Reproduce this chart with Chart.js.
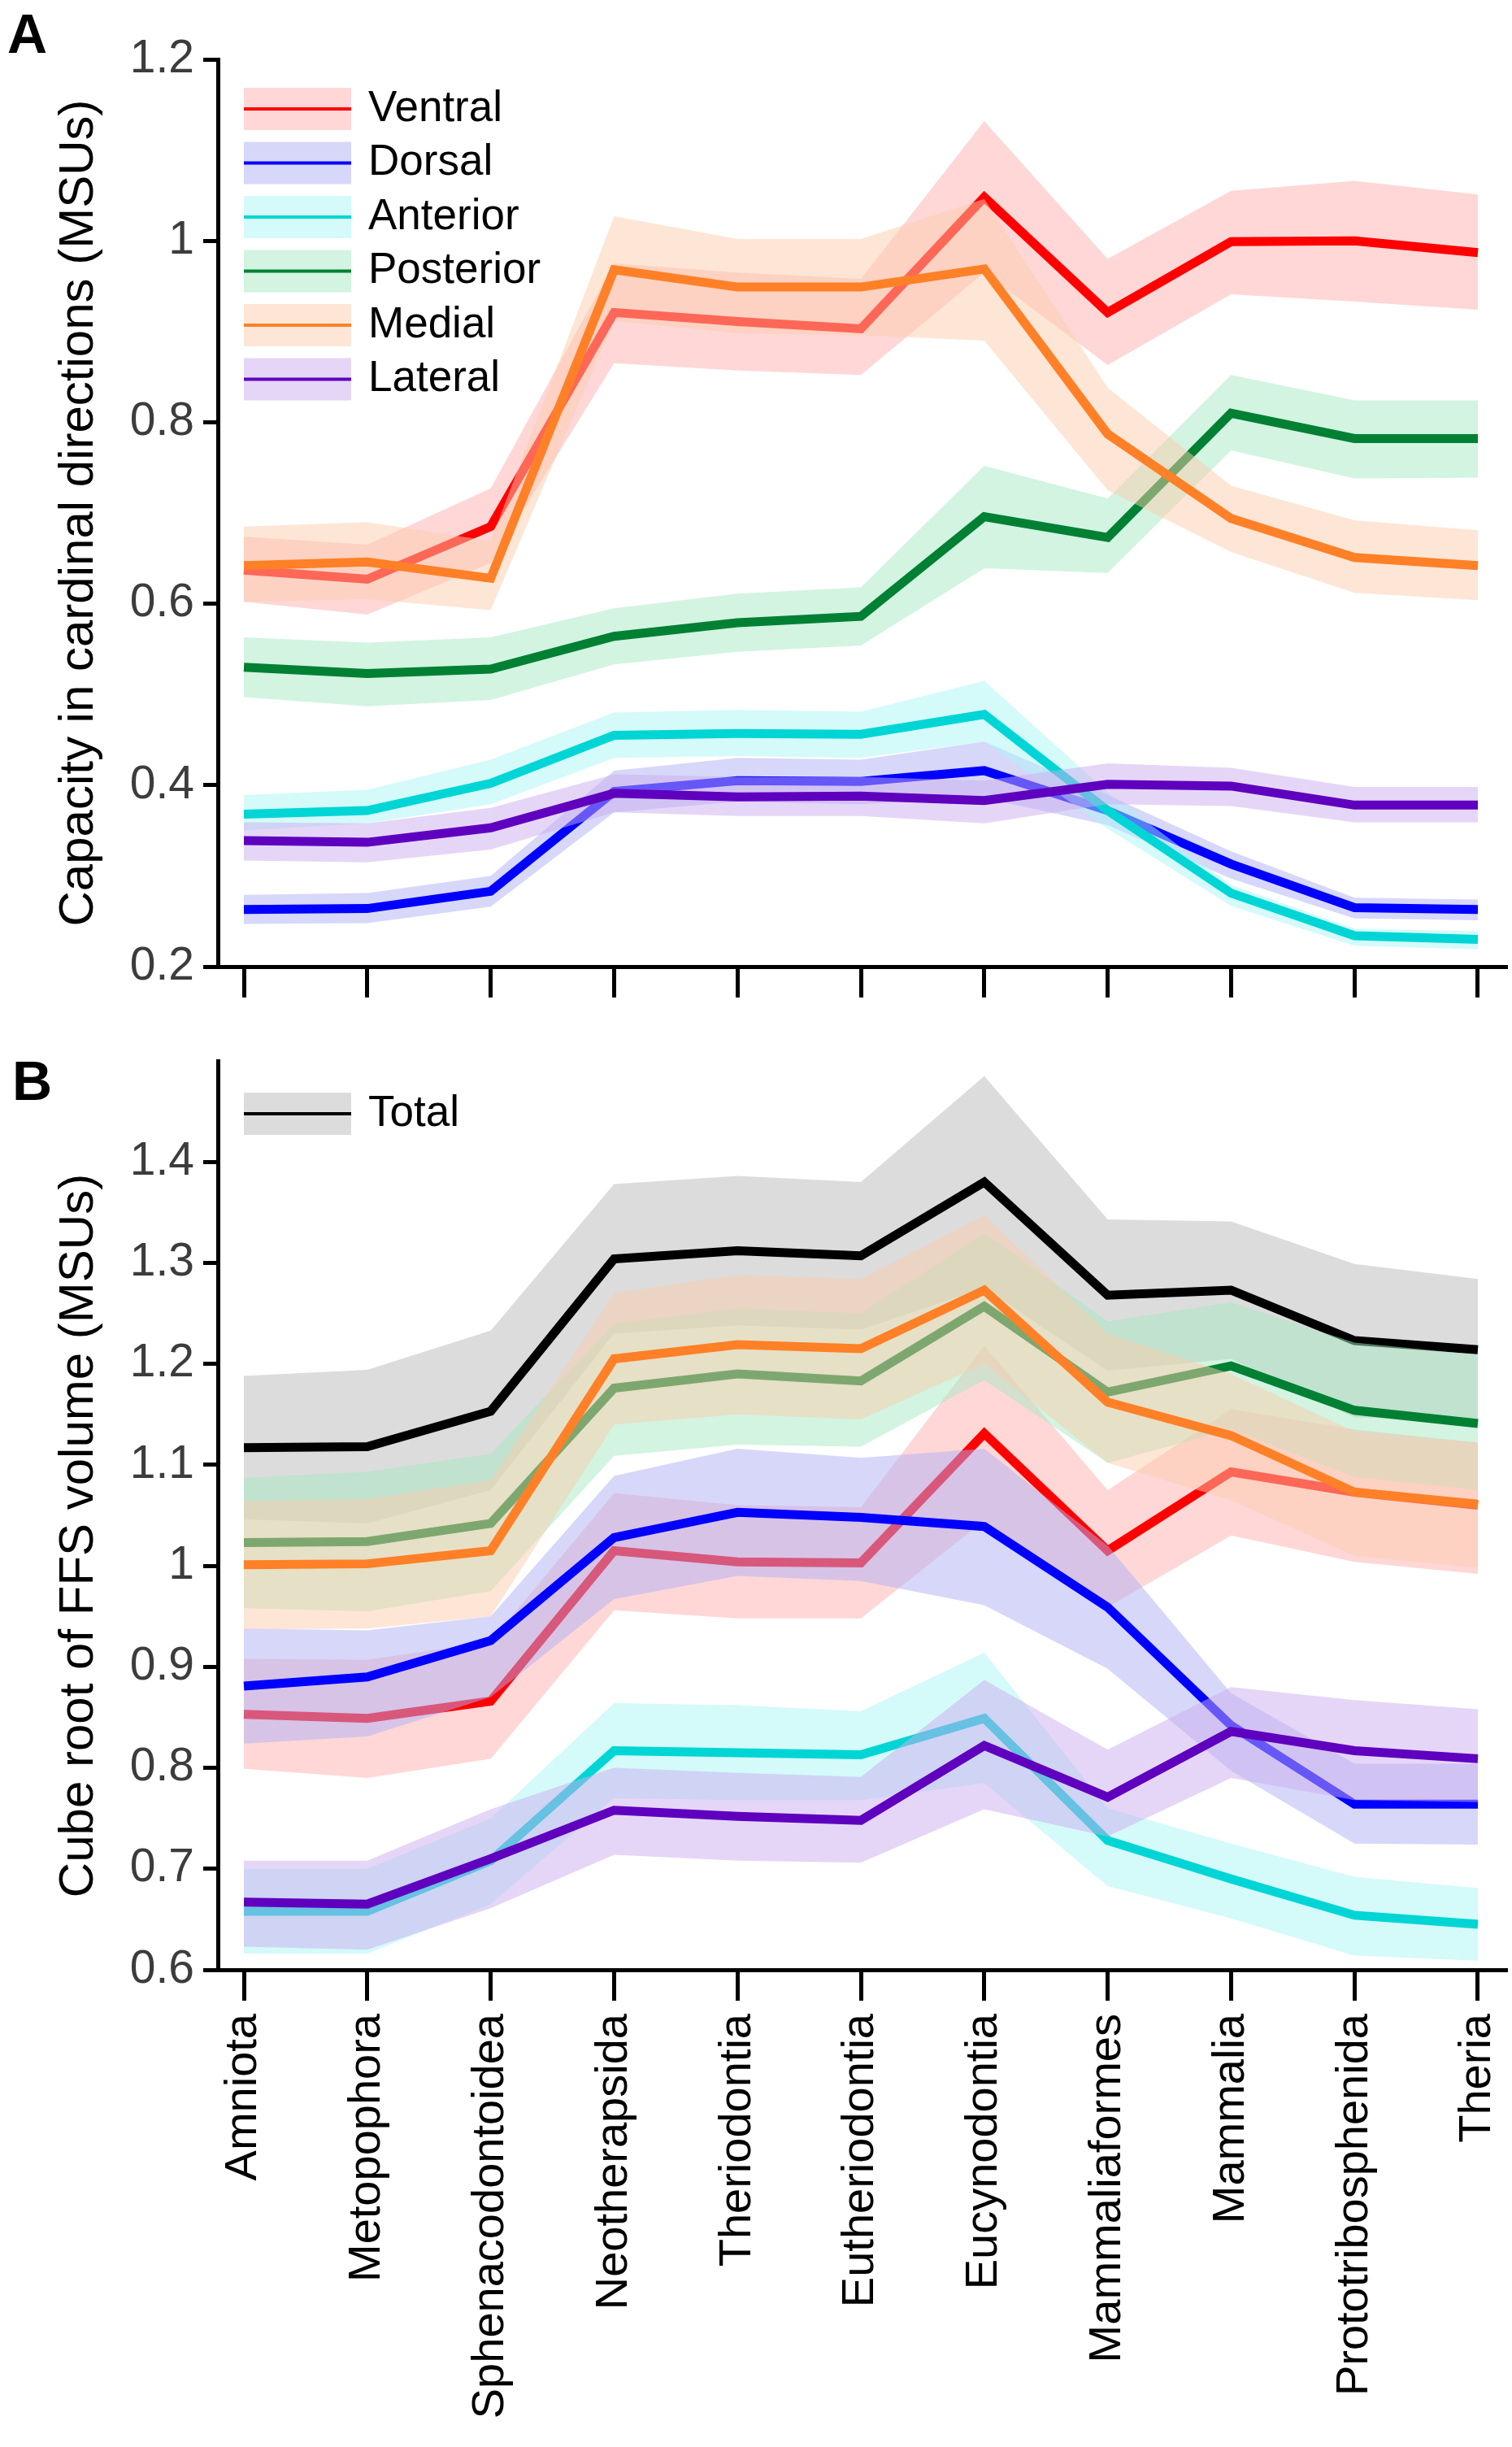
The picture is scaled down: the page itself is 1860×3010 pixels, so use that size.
<!DOCTYPE html>
<html>
<head>
<meta charset="utf-8">
<title>FFS capacity</title>
<script src="https://cdn.jsdelivr.net/npm/chart.js@4.4.1/dist/chart.umd.min.js"></script>
<style>
  html, body { margin: 0; padding: 0; background: #fff; }
  #wrap { position: relative; width: 1860px; height: 3010px; }
  canvas { position: absolute; left: 0; }
  #chartA { top: 0; }
  #chartB { top: 1260px; }
</style>
</head>
<body>
<div id="wrap">
  <canvas id="chartA" width="1860" height="1260"></canvas>
  <canvas id="chartB" width="1860" height="1750"></canvas>
</div>
<script>
// categories (x axis)
const categories = ['Amniota', 'Metopophora', 'Sphenacodontoidea', 'Neotherapsida', 'Theriodontia',
    'Eutheriodontia', 'Eucynodontia', 'Mammaliaformes', 'Mammalia', 'Prototribosphenida', 'Theria'];

// tick labels
const yTicksA = [0.2, 0.4, 0.6, 0.8, 1, 1.2];
const yTicksB = [0.6, 0.7, 0.8, 0.9, 1, 1.1, 1.2, 1.3, 1.4];

// Panel A - capacity in cardinal directions
const ventralA   = [0.637, 0.627, 0.685, 0.921, 0.911, 0.903, 1.048, 0.921, 0.999, 1.000, 0.987];
const ventralAHi = [0.674, 0.665, 0.727, 0.975, 0.965, 0.958, 1.132, 0.980, 1.055, 1.066, 1.051];
const ventralALo = [0.602, 0.588, 0.645, 0.865, 0.857, 0.852, 0.965, 0.863, 0.941, 0.933, 0.924];

const dorsalA   = [0.263, 0.264, 0.283, 0.393, 0.405, 0.404, 0.416, 0.372, 0.313, 0.265, 0.263];
const dorsalAHi = [0.279, 0.281, 0.300, 0.416, 0.430, 0.428, 0.448, 0.389, 0.327, 0.276, 0.274];
const dorsalALo = [0.247, 0.248, 0.266, 0.370, 0.382, 0.379, 0.386, 0.356, 0.297, 0.253, 0.251];

const anteriorA   = [0.368, 0.372, 0.402, 0.455, 0.457, 0.456, 0.478, 0.372, 0.281, 0.234, 0.230];
const anteriorAHi = [0.389, 0.395, 0.428, 0.480, 0.483, 0.481, 0.515, 0.392, 0.290, 0.242, 0.239];
const anteriorALo = [0.350, 0.358, 0.379, 0.430, 0.432, 0.430, 0.448, 0.352, 0.267, 0.223, 0.219];

const posteriorA   = [0.530, 0.523, 0.528, 0.564, 0.579, 0.586, 0.696, 0.673, 0.810, 0.782, 0.782];
const posteriorAHi = [0.563, 0.557, 0.563, 0.595, 0.611, 0.618, 0.752, 0.716, 0.852, 0.824, 0.824];
const posteriorALo = [0.497, 0.487, 0.494, 0.533, 0.547, 0.554, 0.639, 0.634, 0.769, 0.738, 0.739];

const medialA   = [0.642, 0.646, 0.628, 0.968, 0.949, 0.949, 0.969, 0.787, 0.694, 0.651, 0.642];
const medialAHi = [0.685, 0.690, 0.669, 1.027, 1.002, 1.002, 1.046, 0.838, 0.730, 0.692, 0.681];
const medialALo = [0.602, 0.605, 0.593, 0.912, 0.898, 0.896, 0.890, 0.725, 0.657, 0.612, 0.604];

const lateralA   = [0.339, 0.337, 0.353, 0.391, 0.387, 0.388, 0.383, 0.401, 0.399, 0.378, 0.378];
const lateralAHi = [0.359, 0.358, 0.375, 0.412, 0.409, 0.409, 0.405, 0.424, 0.419, 0.398, 0.398];
const lateralALo = [0.317, 0.315, 0.329, 0.370, 0.366, 0.366, 0.358, 0.379, 0.377, 0.359, 0.359];

// Panel B - cube root of FFS volume
const totalB   = [1.117, 1.118, 1.153, 1.304, 1.312, 1.307, 1.380, 1.268, 1.273, 1.223, 1.214];
const totalBHi = [1.188, 1.194, 1.233, 1.378, 1.386, 1.380, 1.485, 1.343, 1.341, 1.299, 1.284];
const totalBLo = [1.046, 1.042, 1.075, 1.230, 1.238, 1.234, 1.275, 1.193, 1.205, 1.147, 1.144];

const ventralB   = [0.853, 0.849, 0.866, 1.015, 1.004, 1.003, 1.131, 1.015, 1.093, 1.073, 1.060];
const ventralBHi = [0.908, 0.907, 0.925, 1.072, 1.060, 1.058, 1.218, 1.075, 1.155, 1.135, 1.122];
const ventralBLo = [0.799, 0.790, 0.809, 0.956, 0.948, 0.948, 1.045, 0.959, 1.030, 1.004, 0.992];

const dorsalB   = [0.881, 0.890, 0.926, 1.028, 1.053, 1.048, 1.039, 0.959, 0.842, 0.764, 0.764];
const dorsalBHi = [0.938, 0.936, 0.950, 1.089, 1.116, 1.107, 1.116, 1.020, 0.874, 0.804, 0.804];
const dorsalBLo = [0.824, 0.831, 0.870, 0.967, 0.990, 0.985, 0.961, 0.898, 0.797, 0.725, 0.724];

const anteriorB   = [0.658, 0.658, 0.708, 0.817, 0.815, 0.813, 0.849, 0.728, 0.690, 0.654, 0.645];
const anteriorBHi = [0.700, 0.700, 0.750, 0.864, 0.862, 0.856, 0.914, 0.760, 0.725, 0.692, 0.681];
const anteriorBLo = [0.616, 0.616, 0.665, 0.770, 0.768, 0.768, 0.785, 0.683, 0.651, 0.614, 0.609];

const posteriorB   = [1.023, 1.024, 1.042, 1.176, 1.190, 1.183, 1.257, 1.172, 1.198, 1.154, 1.141];
const posteriorBHi = [1.087, 1.093, 1.111, 1.240, 1.255, 1.250, 1.330, 1.242, 1.261, 1.221, 1.209];
const posteriorBLo = [0.958, 0.955, 0.975, 1.109, 1.120, 1.118, 1.184, 1.102, 1.135, 1.088, 1.075];

const medialB   = [1.001, 1.002, 1.015, 1.205, 1.219, 1.215, 1.273, 1.162, 1.129, 1.073, 1.061];
const medialBHi = [1.064, 1.066, 1.085, 1.270, 1.288, 1.284, 1.347, 1.230, 1.190, 1.133, 1.122];
const medialBLo = [0.937, 0.938, 0.950, 1.140, 1.150, 1.145, 1.200, 1.102, 1.065, 1.010, 0.998];

const lateralB   = [0.667, 0.665, 0.710, 0.758, 0.752, 0.748, 0.822, 0.771, 0.836, 0.817, 0.809];
const lateralBHi = [0.708, 0.708, 0.759, 0.800, 0.795, 0.791, 0.887, 0.818, 0.880, 0.867, 0.858];
const lateralBLo = [0.623, 0.620, 0.661, 0.714, 0.708, 0.706, 0.759, 0.732, 0.790, 0.768, 0.766];

const FONT = "'Liberation Sans', Arial, Helvetica, sans-serif";

// colours: line, band (band drawn at 50% alpha)
const COL = {
    Ventral:   ['#ff0000', 'rgba(255,175,175,0.5)'],
    Dorsal:    ['#0000ff', 'rgba(175,175,245,0.5)'],
    Anterior:  ['#00d5d5', 'rgba(169,245,245,0.5)'],
    Posterior: ['#008033', 'rgba(165,233,195,0.5)'],
    Medial:    ['#ff8027', 'rgba(251,205,173,0.5)'],
    Lateral:   ['#5f00be', 'rgba(203,173,239,0.5)'],
    Total:     ['#000000', 'rgba(185,185,185,0.5)']
};

function series(name, mean, lo, hi) {
    return { name, mean, lo, hi, line: COL[name][0], band: COL[name][1] };
}

// each series -> band top (filled to next), band bottom, mean line
// first series is drawn first so later bands sit over earlier lines
function buildDatasets(list) {
    const ds = [];
    let n = list.length * 3;
    const pts = arr => arr.map((v, i) => ({ x: i, y: v }));
    list.forEach(s => {
        ds.push({ label: s.name + ' hi', data: pts(s.hi), borderWidth: 0, borderColor: 'rgba(0,0,0,0)',
            backgroundColor: s.band, fill: '+1', order: n-- });
        ds.push({ label: s.name + ' lo', data: pts(s.lo), borderWidth: 0, borderColor: 'rgba(0,0,0,0)',
            fill: false, order: n-- });
        ds.push({ label: s.name, data: pts(s.mean), borderColor: s.line, borderWidth: 11,
            fill: false, order: n-- });
    });
    return ds;
}

// legend with band patch + line, plus panel letter
const bandLegend = {
    id: 'bandLegend',
    afterDatasetsDraw(chart, args, opts) {
        const ctx = chart.ctx;
        ctx.save();
        opts.items.forEach((s, i) => {
            const cy = opts.y + i * 66.5;
            ctx.fillStyle = '#fff';
            ctx.fillRect(300, cy - 26, 132, 52);
            ctx.fillStyle = s.band;
            ctx.fillRect(300, cy - 26, 132, 52);
            ctx.fillStyle = s.line;
            ctx.fillRect(300, cy - 2, 132, 4);
            ctx.fillStyle = '#000';
            ctx.font = '53px ' + FONT;
            ctx.textBaseline = 'middle';
            ctx.textAlign = 'left';
            ctx.fillText(s.name, 453, cy);
        });
        ctx.fillStyle = '#000';
        ctx.font = 'bold 68px ' + FONT;
        ctx.textBaseline = 'alphabetic';
        ctx.fillText(opts.letter, opts.lx, opts.ly);
        ctx.restore();
    }
};

function makeChart(id, list, cfg) {
    return new Chart(document.getElementById(id), {
        type: 'line',
        data: { datasets: buildDatasets(list) },
        options: {
            responsive: false,
            animation: false,
            devicePixelRatio: 1,
            events: [],
            layout: { padding: cfg.padding },
            elements: {
                line: { tension: 0, borderJoinStyle: 'miter', borderCapStyle: 'butt' },
                point: { radius: 0 }
            },
            plugins: {
                legend: { display: false },
                tooltip: { enabled: false },
                bandLegend: { items: list.filter(s => cfg.legend.includes(s.name)), y: cfg.legendY,
                    letter: cfg.letter, lx: cfg.lx, ly: cfg.ly }
            },
            scales: {
                x: {
                    type: 'linear',
                    min: -0.211,
                    max: 10.224,
                    afterBuildTicks: s => { s.ticks = categories.map((c, i) => ({ value: i })); },
                    afterFit: s => { s.height = cfg.xHeight; s.paddingLeft = 0; s.paddingRight = 0; },
                    border: { display: true, color: '#000', width: 5 },
                    grid: { drawOnChartArea: false, drawTicks: true, tickLength: 38, lineWidth: 5, color: '#000' },
                    ticks: {
                        display: cfg.xLabels,
                        autoSkip: false,
                        minRotation: 90,
                        maxRotation: 90,
                        padding: 16,
                        color: '#000',
                        font: { family: FONT, size: 56 },
                        callback: v => categories[v]
                    }
                },
                y: {
                    min: cfg.yMin,
                    max: cfg.yMax,
                    afterBuildTicks: s => { s.ticks = cfg.yTicks.map(v => ({ value: v })); },
                    afterFit: s => { s.width = 268; s.paddingTop = 0; s.paddingBottom = 0; },
                    border: { display: true, color: '#000', width: 5 },
                    grid: { drawOnChartArea: false, drawTicks: true, tickLength: 18, lineWidth: 5, color: '#000' },
                    ticks: {
                        padding: 11,
                        color: '#3c3c3c',
                        font: { family: FONT, size: 57 },
                        callback: v => String(Math.round(v * 10) / 10)
                    },
                    title: {
                        display: true,
                        text: cfg.title,
                        color: '#000',
                        font: { family: FONT, size: 60 },
                        padding: { top: 61, bottom: 0 }
                    }
                }
            }
        },
        plugins: [bandLegend]
    });
}

// Panel A
makeChart('chartA', [
    series('Ventral', ventralA, ventralALo, ventralAHi),
    series('Dorsal', dorsalA, dorsalALo, dorsalAHi),
    series('Anterior', anteriorA, anteriorALo, anteriorAHi),
    series('Posterior', posteriorA, posteriorALo, posteriorAHi),
    series('Medial', medialA, medialALo, medialAHi),
    series('Lateral', lateralA, lateralALo, lateralAHi)
], {
    padding: { top: 73, right: 8, bottom: 31, left: 0 },
    xHeight: 40, xLabels: false,
    yMin: 0.2, yMax: 1.2, yTicks: yTicksA,
    title: 'Capacity in cardinal directions (MSUs)',
    legend: ['Ventral', 'Dorsal', 'Anterior', 'Posterior', 'Medial', 'Lateral'], legendY: 134,
    letter: 'A', lx: 9, ly: 65
});

// Panel B (trailing spaces nudge the centred title down a little)
makeChart('chartB', [
    series('Total', totalB, totalBLo, totalBHi),
    series('Ventral', ventralB, ventralBLo, ventralBHi),
    series('Dorsal', dorsalB, dorsalBLo, dorsalBHi),
    series('Anterior', anteriorB, anteriorBLo, anteriorBHi),
    series('Posterior', posteriorB, posteriorBLo, posteriorBHi),
    series('Medial', medialB, medialBLo, medialBHi),
    series('Lateral', lateralB, lateralBLo, lateralBHi)
], {
    padding: { top: 45, right: 8, bottom: 27, left: 0 },
    xHeight: 560, xLabels: true,
    yMin: 0.6, yMax: 1.5, yTicks: yTicksB,
    title: 'Cube root of FFS volume (MSUs)\u00a0\u00a0\u00a0',
    legend: ['Total'], legendY: 110,
    letter: 'B', lx: 15, ly: 93
});
</script>
</body>
</html>
